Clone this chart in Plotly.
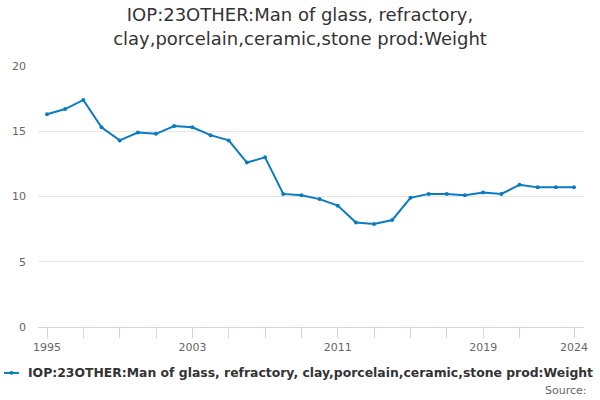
import plotly.graph_objects as go

years = list(range(1995, 2025))
weight = [16.3, 16.7, 17.4, 15.3, 14.3, 14.9, 14.8, 15.4, 15.3, 14.7,
          14.3, 12.6, 13.0, 10.2, 10.1, 9.8, 9.3, 8.0, 7.9, 8.2,
          9.9, 10.2, 10.2, 10.1, 10.3, 10.2, 10.9, 10.7, 10.7, 10.7]
tick_years = list(range(1995, 2022, 2)) + [2024]
labelled = [1995, 2003, 2011, 2019, 2024]
tick_text = [str(y) if y in labelled else '' for y in tick_years]
y_ticks = [0, 5, 10, 15, 20]

series_name = 'IOP:23OTHER:Man of glass, refractory, clay,porcelain,ceramic,stone prod:Weight'
color = '#0b7bc1'

fig = go.Figure()
fig.add_trace(go.Scatter(
    x=years, y=weight, name=series_name,
    mode='lines+markers',
    line=dict(color=color, width=2),
    marker=dict(size=4, color=color),
    showlegend=False,
))

# legend drawn by hand: plotly's own symbol box is too wide for this long name
fig.add_shape(type='line', xref='paper', yref='paper',
              x0=-0.0623, x1=-0.0348, y0=-0.176, y1=-0.176,
              line=dict(color=color, width=2))
fig.add_shape(type='circle', xref='paper', yref='paper',
              x0=-0.052, x1=-0.045, y0=-0.183, y1=-0.169,
              fillcolor=color, line=dict(color=color, width=0))

fig.update_layout(
    width=600, height=400,
    template='plotly_white',
    font=dict(family='DejaVu Sans', color='#333333'),
    title=dict(
        text='IOP:23OTHER:Man of glass, refractory,<br>clay,porcelain,ceramic,stone prod:Weight',
        x=0.5, xanchor='center', y=0.947, yanchor='top',
        font=dict(size=18, color='#333333'),
    ),
    margin=dict(l=38, r=16, t=66, b=73),
    plot_bgcolor='white',
    annotations=[
        dict(text='<b>' + series_name + '</b>', xref='paper', yref='paper',
             x=-0.0225, y=-0.176, xanchor='left', yanchor='middle', showarrow=False,
             font=dict(size=12.4, color='#333333')),
        dict(text='Source:', xref='paper', yref='paper', x=1.01, y=-0.245,
             xanchor='right', yanchor='middle', showarrow=False,
             font=dict(size=11, color='#666666')),
    ],
)
fig.update_xaxes(
    range=[1994.505, 2024.55], automargin=False,
    tickvals=tick_years, ticktext=tick_text,
    ticks='outside', ticklen=10, tickcolor='#ccd6eb',
    showline=True, linecolor='#ccd6eb', showgrid=False, zeroline=False,
    tickfont=dict(size=11, color='#666666'),
)
fig.update_yaxes(
    range=[0, 20], tickvals=y_ticks, automargin=False,
    gridcolor='#e6e6e6', zeroline=False,
    tickfont=dict(size=11, color='#666666'),
    ticklabelstandoff=11,
)

fig.write_html('out.html', config={'displayModeBar': False},
               post_script="document.body.style.margin='0';")
